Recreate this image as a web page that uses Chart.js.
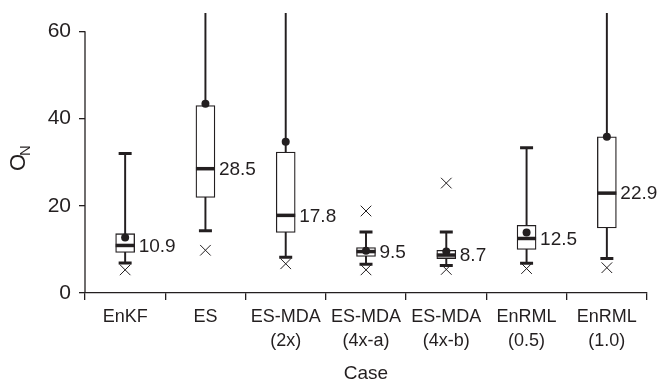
<!DOCTYPE html>
<html>
<head>
    <title>O_N by case</title>
    <style>
        body {
            margin: 0;
            background-color: #ffffff;
        }
        #wrap {
            width: 660px;
            height: 388px;
        }
    </style>
</head>
<body>
    <div id="wrap">
        <canvas id="boxCanvas" width="660" height="388"></canvas>
    </div>

    <script src="https://cdn.jsdelivr.net/npm/chart.js"></script>
    <script>
        // values
        const cases = [['EnKF'], ['ES'], ['ES-MDA', '(2x)'], ['ES-MDA', '(4x-a)'], ['ES-MDA', '(4x-b)'], ['EnRML', '(0.5)'], ['EnRML', '(1.0)']];
        const whiskerLow = [6.9, 14.3, 8.2, 6.6, 6.3, 6.8, 7.9];
        const whiskerHigh = [32.0, 66, 66, 14.0, 14.0, 33.3, 66];  // 66 = runs off the top
        const q1 = [9.3, 21.9, 13.9, 8.4, 7.9, 10.0, 14.9];
        const q3 = [13.6, 43.0, 32.3, 10.4, 9.8, 15.5, 35.8];
        const medians = [10.9, 28.5, 17.8, 9.5, 8.7, 12.5, 22.9];
        const means = [12.7, 43.4, 34.7, 9.7, 9.5, 13.9, 35.8];
        const outLow = [5.3, 9.8, 6.7, 5.3, 5.4, 5.6, 5.8];
        const outHigh = [null, null, null, 18.8, 25.2, null, null];
        const yTicks = [0, 20, 40, 60];

        const ink = '#231f20';
        const font = "'Liberation Sans', Arial, sans-serif";

        // y axis spine only from 0 to 60, the O_N title, median labels
        const extras = {
            id: 'extras',
            afterDatasetsDraw(chart) {
                const ctx = chart.ctx;
                const x = chart.scales.x;
                const y = chart.scales.y;
                ctx.save();
                ctx.fillStyle = ink;
                ctx.font = '19px ' + font;
                ctx.textAlign = 'left';
                ctx.textBaseline = 'middle';
                medians.forEach((m, i) => {
                    ctx.fillText(m.toFixed(1), x.getPixelForValue(i) + 9.5 + 4, y.getPixelForValue(m) + 1);
                });
                ctx.restore();
            },
            afterDraw(chart) {
                const ctx = chart.ctx;
                const y = chart.scales.y;
                const left = chart.chartArea.left;
                ctx.save();
                ctx.strokeStyle = ink;
                ctx.lineWidth = 1.3;
                ctx.beginPath();
                ctx.moveTo(left, y.getPixelForValue(0));
                ctx.lineTo(left, y.getPixelForValue(60));
                ctx.stroke();

                ctx.translate(25, 163);
                ctx.rotate(-Math.PI / 2);
                ctx.fillStyle = ink;
                ctx.textAlign = 'left';
                ctx.textBaseline = 'alphabetic';
                ctx.font = '22px ' + font;
                ctx.fillText('O', -8, 0);
                ctx.font = '15px ' + font;
                ctx.fillText('N', 7, 5);
                ctx.restore();
            }
        };

        const ctx = document.getElementById('boxCanvas').getContext('2d');
        new Chart(ctx, {
            type: 'bar',
            data: {
                labels: cases,
                datasets: [
                    {
                        label: 'outliers low',
                        type: 'line',
                        data: outLow,
                        showLine: false,
                        pointStyle: 'crossRot',
                        pointRadius: 7.5,
                        pointBorderWidth: 1,
                        pointBorderColor: ink,
                        order: 1
                    },
                    {
                        label: 'outliers high',
                        type: 'line',
                        data: outHigh,
                        showLine: false,
                        pointStyle: 'crossRot',
                        pointRadius: 7.5,
                        pointBorderWidth: 1,
                        pointBorderColor: ink,
                        order: 1
                    },
                    {
                        label: 'mean',
                        type: 'line',
                        data: means,
                        showLine: false,
                        pointStyle: 'circle',
                        pointRadius: 4,
                        pointBorderWidth: 0,
                        pointBackgroundColor: ink,
                        order: 1
                    },
                    {
                        label: 'median',
                        type: 'line',
                        data: medians,
                        showLine: false,
                        pointStyle: 'line',
                        pointRadius: 9.5,
                        pointBorderWidth: 3.5,
                        pointBorderColor: ink,
                        order: 2
                    },
                    {
                        label: 'cap low',
                        type: 'line',
                        data: whiskerLow,
                        showLine: false,
                        pointStyle: 'line',
                        pointRadius: 6.5,
                        pointBorderWidth: 3,
                        pointBorderColor: ink,
                        order: 2
                    },
                    {
                        label: 'cap high',
                        type: 'line',
                        data: whiskerHigh,
                        showLine: false,
                        pointStyle: 'line',
                        pointRadius: 6.5,
                        pointBorderWidth: 3,
                        pointBorderColor: ink,
                        order: 2
                    },
                    {
                        label: 'box',
                        data: q1.map((v, i) => [v, q3[i]]),
                        backgroundColor: '#ffffff',
                        borderColor: ink,
                        borderWidth: 1.3,
                        borderSkipped: false,
                        barThickness: 19,
                        grouped: false,
                        order: 3
                    },
                    {
                        label: 'whisker',
                        data: whiskerLow.map((v, i) => [v, whiskerHigh[i]]),
                        backgroundColor: ink,
                        borderWidth: 0,
                        barThickness: 1.3,
                        grouped: false,
                        order: 4
                    }
                ]
            },
            options: {
                responsive: false,
                animation: false,
                events: [],
                layout: { padding: 0 },
                plugins: {
                    legend: { display: false },
                    tooltip: { enabled: false }
                },
                scales: {
                    x: {
                        offset: true,
                        grid: {
                            offset: true,
                            drawOnChartArea: false,
                            drawTicks: true,
                            tickLength: 7,
                            color: ink,
                            lineWidth: 1.3
                        },
                        border: { display: true, color: ink, width: 1.3 },
                        ticks: {
                            color: ink,
                            font: { family: font, size: 18, lineHeight: 1.28 },
                            padding: 6,
                            maxRotation: 0,
                            autoSkip: false
                        },
                        title: {
                            display: true,
                            text: 'Case',
                            color: ink,
                            font: { family: font, size: 19 },
                            padding: { top: 6, bottom: 3 }
                        },
                        afterFit(scale) {
                            scale.height = 95;
                            scale.paddingLeft = 0;
                            scale.paddingRight = 0;
                        }
                    },
                    y: {
                        min: 0,
                        max: 64.2,
                        grid: {
                            drawOnChartArea: false,
                            drawTicks: true,
                            tickLength: 6,
                            color: ink,
                            lineWidth: 1.3
                        },
                        border: { display: false },
                        ticks: {
                            color: ink,
                            font: { family: font, size: 21 },
                            padding: 8
                        },
                        afterBuildTicks(scale) {
                            scale.ticks = yTicks.map(v => ({ value: v }));
                        },
                        afterFit(scale) {
                            scale.width = 85;
                            scale.paddingTop = 0;
                            scale.paddingBottom = 0;
                        }
                    }
                }
            },
            plugins: [extras]
        });
    </script>
</body>
</html>
